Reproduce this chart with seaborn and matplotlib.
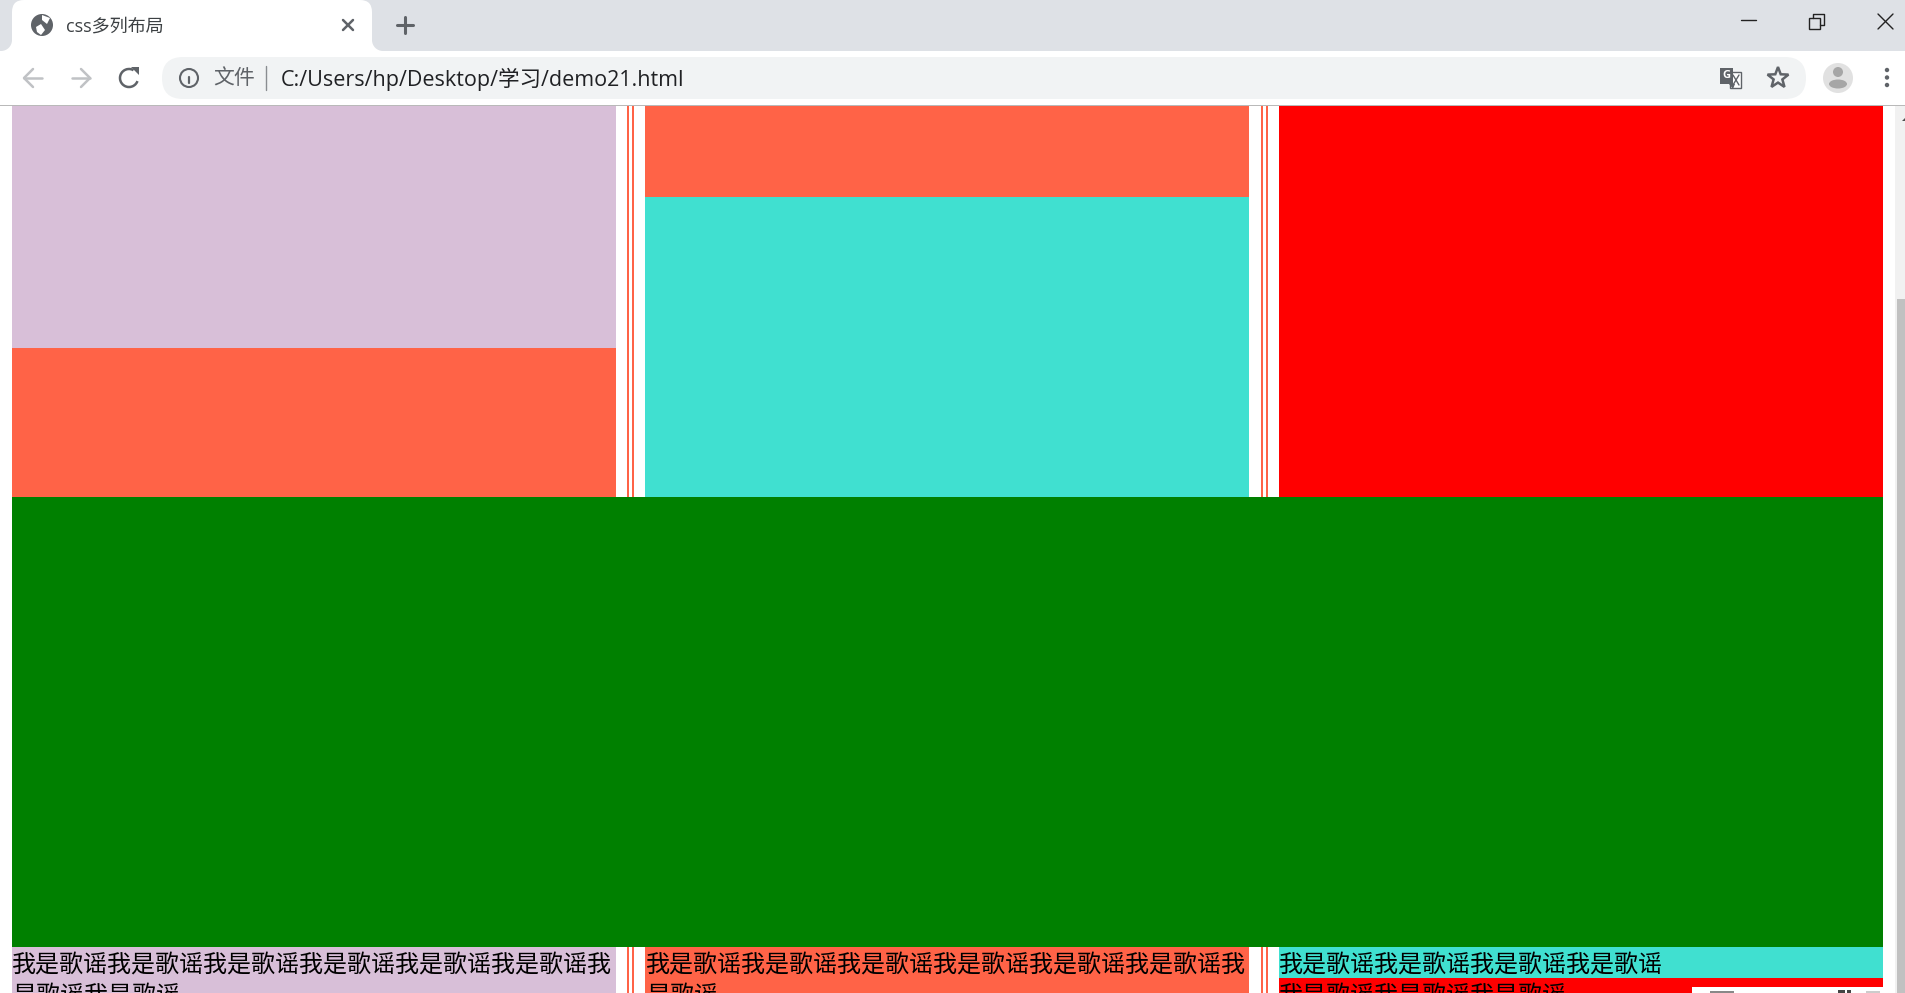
import matplotlib
matplotlib.use('Agg')
from matplotlib import pyplot as plt
from matplotlib.patches import Arc, Circle, Ellipse, FancyBboxPatch, Polygon, Rectangle
import numpy as np
import seaborn as sns

sns.set_theme(style='white')
cjk = ['Noto Sans CJK SC', 'DejaVu Sans']
ui = ['Open Sans', 'Noto Sans CJK SC']

COL1, COL2, COL3 = 314, 947.5, 1581
RULES = [628, 633, 1262, 1267]
LAV, TOM, TUR, RED, GRN = '#d8bfd8', '#ff6347', '#40e0d0', '#ff0000', '#008000'

# the page blocks, painted back to front
foot_center = [COL1, COL2, COL3, COL3]
foot_depth = [993, 993, 993, 978]
foot_color = [LAV, TOM, RED, TUR]

band_center = 947.5
band_depth = 947
band_width = 1871

gap_center = [631, 1264]
gap_depth = 497

top_center = [COL1, COL2, COL3, COL1, COL2]
top_depth = [497, 497, 497, 348, 197]
top_color = [TOM, TUR, RED, LAV, TOM]

# the text at the foot of each column
text_left = [12, 646, 1279]
line_one = ['我是歌谣我是歌谣我是歌谣我是歌谣我是歌谣我是歌谣我',
            '我是歌谣我是歌谣我是歌谣我是歌谣我是歌谣我是歌谣我',
            '我是歌谣我是歌谣我是歌谣我是歌谣']
line_two = ['是歌谣我是歌谣', '是歌谣', '我是歌谣我是歌谣我是歌谣']

tab_title = 'css多列布局'
url_label = '文件'
url_text = 'C:/Users/hp/Desktop/学习/demo21.html'

fig = plt.figure(figsize=(19.06, 9.93), dpi=100, facecolor='white')
ax = fig.add_axes([0, 0, 1, 1])


def block(center, depth, width, color):
    sns.barplot(x=[center], y=[depth], native_scale=True, width=width, color=color,
                saturation=1, linewidth=0, errorbar=None, ax=ax)


# Draw the page as bars hanging from the top of the window
for center, depth, color in zip(foot_center, foot_depth, foot_color):
    block(center, depth, 604, color)
for center in RULES:
    block(center, 993, 2, TOM)
block(band_center, band_depth, band_width, GRN)
for center in gap_center:
    block(center, gap_depth, 30, 'white')
for center in RULES:
    block(center, gap_depth, 2, TOM)
for center, depth, color in zip(top_center, top_depth, top_color):
    block(center, depth, 604, color)

ax.set_xlim(0, 1906)
ax.set_ylim(993, 0)
ax.axis('off')

for left, one, two in zip(text_left, line_one, line_two):
    ax.text(left, 965, one, fontsize=17.3, family=cjk, color='black', va='center', ha='left')
    ax.text(left, 996, two, fontsize=17.3, family=cjk, color='black', va='center', ha='left')


#### Browser window around the page
def rect(x0, y0, x1, y1, color, z=5):
    ax.add_patch(Rectangle((x0, y0), x1 - x0, y1 - y0, facecolor=color, edgecolor='none', zorder=z))


def stroke(xs, ys, color='#5f6368', lw=1.5, z=7):
    ax.plot(xs, ys, color=color, lw=lw, zorder=z, solid_capstyle='round', solid_joinstyle='round')


rect(0, 0, 1906, 105, 'white')
rect(0, 0, 1906, 51, '#dee1e6')
rect(0, 105, 1906, 106, '#b9b9b9')

# tab with its flared foot
rect(0, 40, 384, 51, 'white', 5.2)
ax.add_patch(Circle((1, 40), 11, facecolor='#dee1e6', edgecolor='none', zorder=5.25))
ax.add_patch(Circle((383, 40), 11, facecolor='#dee1e6', edgecolor='none', zorder=5.25))
rect(0, 51, 1906, 105, 'white', 5.3)
ax.add_patch(FancyBboxPatch((12, 0), 360, 60, boxstyle='round,pad=0,rounding_size=12',
                            facecolor='white', edgecolor='none', zorder=5.28))
rect(0, 51, 1906, 105, 'white', 5.3)
ax.add_patch(FancyBboxPatch((162, 57), 1644, 42, boxstyle='round,pad=0,rounding_size=21',
                            facecolor='#f1f3f4', edgecolor='none', zorder=5.5))

# globe
ax.add_patch(Circle((42, 25), 11, facecolor='#5f6368', edgecolor='none', zorder=6))
ax.add_patch(Polygon([(36, 27), (41, 24), (45, 30), (41, 35), (37, 32)], facecolor='white', edgecolor='none', zorder=6.5))
ax.add_patch(Polygon([(42, 15), (50, 18), (47, 24), (42, 20)], facecolor='white', edgecolor='none', zorder=6.5))

ax.text(66, 27, tab_title, fontsize=13, family=ui, color='#3c4043', va='center', ha='left', zorder=7)
stroke([343, 353], [20, 30], lw=1.8)
stroke([343, 353], [30, 20], lw=1.8)
stroke([405, 405], [17, 33], lw=2.2)
stroke([397, 413], [25, 25], lw=2.2)

# window buttons
stroke([1741, 1756], [20, 20], color='#222222', lw=1, z=7)
ax.add_patch(Rectangle((1809, 18), 11, 11, facecolor='none', edgecolor='#222222', lw=1, zorder=7))
stroke([1813, 1813, 1824, 1824, 1820], [18, 14, 14, 25, 25], color='#222222', lw=1)
stroke([1878, 1893], [14, 29], color='#222222', lw=1)
stroke([1878, 1893], [29, 14], color='#222222', lw=1)

# back, forward, reload
stroke([24, 42], [78, 78], color='#c0c2c5', lw=1.8)
stroke([33, 24, 33], [69, 78, 87], color='#c0c2c5', lw=1.8)
stroke([72, 90], [78, 78], color='#c0c2c5', lw=1.8)
stroke([81, 90, 81], [69, 78, 87], color='#c0c2c5', lw=1.8)
ax.add_patch(Arc((129, 78), 18, 18, theta1=20, theta2=300, color='#5f6368', lw=1.8, zorder=7))
ax.add_patch(Polygon([(131, 67), (139, 67), (139, 75)], facecolor='#5f6368', edgecolor='none', zorder=7))

# address bar
ax.add_patch(Circle((189, 78), 9, facecolor='none', edgecolor='#5f6368', lw=1.5, zorder=7))
stroke([189, 189], [77, 83], lw=1.6)
stroke([189, 189], [73.5, 74], lw=1.8)
ax.text(213, 79, url_label, fontsize=15, family=ui, color='#5f6368', va='center', ha='left', zorder=7)
stroke([266, 266], [66, 90], color='#8a8d91', lw=1)
ax.text(281, 79, url_text, fontsize=15.5, family=ui, color='#202124', va='center', ha='left', zorder=7)

# translate icon
ax.add_patch(Rectangle((1730, 72), 11, 16, facecolor='white', edgecolor='#5f6368', lw=1, zorder=6))
rect(1720, 68, 1733, 84, '#5f6368', 6.5)
ax.add_patch(Polygon([(1729, 84), (1735, 84), (1733, 89)], facecolor='#5f6368', edgecolor='none', zorder=6.5))
ax.text(1726, 76, 'G', fontsize=8, family='Open Sans', weight='bold', color='white', va='center', ha='center', zorder=7)
stroke([1733, 1739], [75, 85], lw=1)
stroke([1739, 1733], [75, 85], lw=1)

# star
angles = np.deg2rad(np.arange(-90, 270, 36))
radii = np.tile([11, 4.6], 5)
ax.add_patch(Polygon(np.c_[1778 + radii * np.cos(angles), 78 + radii * np.sin(angles)],
                     facecolor='none', edgecolor='#5f6368', lw=1.8, zorder=7))

# avatar
ax.add_patch(Circle((1838, 78), 15, facecolor='#e1e1e1', edgecolor='none', zorder=6))
ax.add_patch(Circle((1838, 72), 5, facecolor='#a6a6a6', edgecolor='none', zorder=7))
ax.add_patch(Ellipse((1838, 84), 18, 9, facecolor='#a6a6a6', edgecolor='none', zorder=7))

# menu dots
for y in [70, 77.5, 85]:
    ax.add_patch(Circle((1887, y), 2.2, facecolor='#5f6368', edgecolor='none', zorder=7))

# scrollbar
rect(1895, 106, 1906, 993, '#f1f1f1')
rect(1897, 299, 1906, 993, '#c1c1c1', 6)
ax.add_patch(Polygon([(1902, 121), (1906, 121), (1906, 117)], facecolor='#505050', edgecolor='none', zorder=7))

# corner of the download bar at the bottom
rect(1692, 987, 1883, 993, 'white')
rect(1710, 991, 1734, 993, '#888888', 6)
rect(1838, 990, 1845, 993, '#444444', 6)
rect(1847, 990, 1851, 993, '#444444', 6)
rect(1866, 991, 1880, 993, '#cccccc', 6)

plt.savefig('out.png', dpi=100)
